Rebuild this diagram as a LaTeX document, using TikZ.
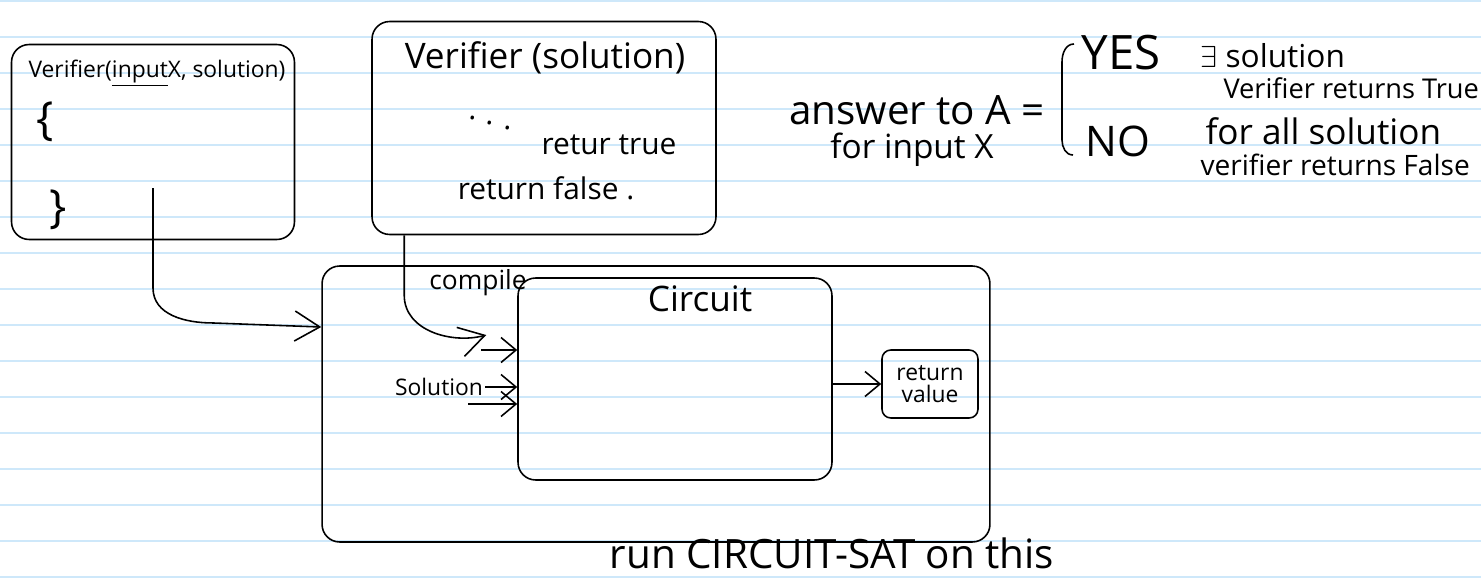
\documentclass[tikz,border=0pt]{standalone}
\usepackage{fontspec}
\setmainfont{Open Sans}
\usetikzlibrary{arrows.meta,positioning}
\definecolor{ruleblue}{RGB}{206,232,250}

\begin{document}
\begin{tikzpicture}[x=0.02cm, y=-0.02cm,
                    line width=0.9pt,
                    box/.style = {draw, rounded corners=10pt, inner sep=0pt},
                    barb/.style = {-{Straight Barb[length=3mm,width=5mm]}},
                    bigbarb/.style = {-{Straight Barb[length=5mm,width=6mm]}},
                    hand/.style = {inner sep=1pt, font=\fontsize{#1}{#1}\selectfont},
                    hand/.default = 15,
                    ruled/.style = {ruleblue, line width=0.8pt}
                    ]
\useasboundingbox (0,0) rectangle (1481,578);
\fill[white] (0,0) rectangle (1481,578);
\foreach \k in {0,...,16}
  \draw[ruled] (0,{1+36*\k}) -- (1481,{1+36*\k});

% the two verifiers
\node[box, minimum width=5.66cm, minimum height=3.9cm]  (verA) at (153,142) {};
\node[box, minimum width=6.88cm, minimum height=4.26cm] (verB) at (544,128) {};

\node[hand=13] (sigA)  at (157,73)  {Verifier(\underline{input}X, solution)};
\node[hand=26] (openA) at (45,122)  {\{};
\node[hand=26] (closeA) at (58,210) {\}};
\coordinate (verAtail) at (153,188);

\node[hand=20] (sigB)  at (545,58)  {Verifier (solution)};
\node[hand=17, rotate=-15] (dotsB) at (490,123) {. . .};
\node[hand=17] (trueB)  at (609,145) {retur true};
\node[hand=17] (falseB) at (546,188) {return false .};

% circuit
\node[box, minimum width=13.36cm, minimum height=5.52cm] (wrap) at (656,404) {};
\node[box, minimum width=6.28cm, minimum height=4.04cm]  (circ) at (675,379) {};
\node[hand=20] (circT) at (700,299) {Circuit};
\node[box, hand=13, align=center, rounded corners=5pt,
      minimum width=1.92cm, minimum height=1.36cm] (retv) at (930,384) {return\\value};
\node[hand=15] (comp) at (478,283) {compile};
\node[hand=13] (sol)  at (439,387) {Solution};
\node[hand=23] (runT) at (832,553) {run CIRCUIT-SAT on this};

\draw[bigbarb] (verAtail) -- ++(0,-2cm) to[out=-90,in=180] ++(1.2cm,-0.7cm)
               -- ([yshift=1.54cm]wrap.west);
\draw[bigbarb] ([xshift=0.66cm]verB.south west) -- ++(0,-1.2cm)
               to[out=-90,in=195] ([shift={(-0.62cm,0.88cm)}]circ.west);
\draw[barb] ([shift={(-0.72cm,0.58cm)}]circ.west) -- ([yshift=0.58cm]circ.west);
\draw[barb] (sol.east) -- (circ.west |- sol.east);
\draw[barb] ([shift={(-0.98cm,-0.5cm)}]circ.west) -- ([yshift=-0.5cm]circ.west);
\draw[barb] (circ.east |- retv.west) -- (retv.west);

% answer to A
\node[hand=23] (ans)  at (917,110) {answer to A =};
\node[hand=19] (forx) at (912,150) {for input X};
\draw (1074,44) to[out=180,in=90] (1062,62) -- (1062,140) to[out=-90,in=180] (1073,155);
\node[hand=27] (yes) at (1121,53)  {YES};
\node[hand=24] (no)  at (1118,141) {NO};
\node[hand=18, anchor=west] (ex)    at (1198,56)  {$\exists$ solution};
\node[hand=15.5, anchor=west] (vtrue) at (1221,88) {Verifier returns True};
\node[hand=20, anchor=west] (all)   at (1203,131) {for all solution};
\node[hand=16, anchor=west] (vfal)  at (1198,165) {verifier returns False};
\end{tikzpicture}
\end{document}
